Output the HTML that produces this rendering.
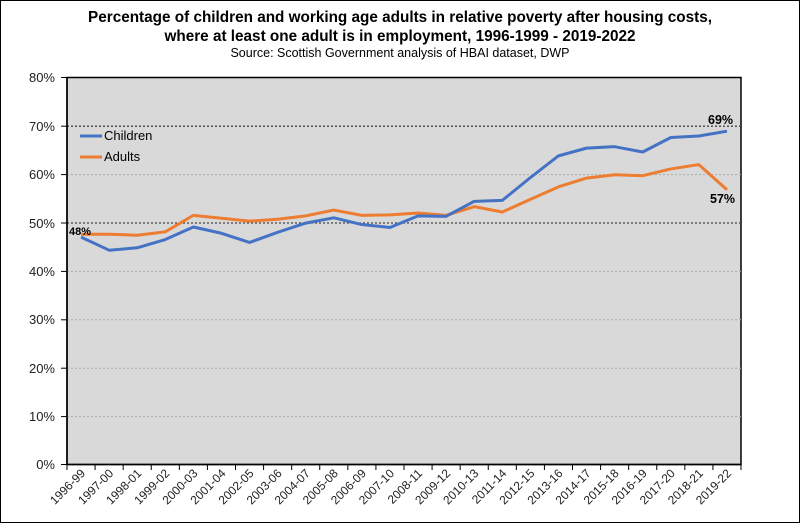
<!DOCTYPE html>
<html><head><meta charset="utf-8"><style>
body{margin:0;background:#fff}
svg{display:block;font-family:"Liberation Sans",Arial,sans-serif}
</style></head><body>
<svg width="800" height="523" viewBox="0 0 800 523" xmlns="http://www.w3.org/2000/svg">
<rect x="0.5" y="0.5" width="799" height="522" fill="#fff" stroke="#000" stroke-width="1"/>
<text x="400" y="22" text-anchor="middle" font-size="15.3" font-weight="bold">Percentage of children and working age adults in relative poverty after housing costs,</text>
<text x="400" y="41" text-anchor="middle" font-size="15.3" font-weight="bold">where at least one adult is in employment, 1996-1999 - 2019-2022</text>
<text x="400" y="57" text-anchor="middle" font-size="12.5">Source: Scottish Government analysis of HBAI dataset, DWP</text>
<rect x="67" y="77.5" width="674" height="387" fill="#d9d9d9" stroke="#000" stroke-width="1.5"/>
<g stroke="#777" stroke-width="1" stroke-dasharray="2,2">
<line x1="67" x2="741" y1="416.6" y2="416.6" stroke="#aaa"/>
<line x1="67" x2="741" y1="368.2" y2="368.2" stroke="#aaa"/>
<line x1="67" x2="741" y1="319.8" y2="319.8" stroke="#aaa"/>
<line x1="67" x2="741" y1="271.4" y2="271.4" stroke="#aaa"/>
<line x1="67" x2="741" y1="223" y2="223" stroke="#444" stroke-width="1.3"/>
<line x1="67" x2="741" y1="174.6" y2="174.6" stroke="#aaa"/>
<line x1="67" x2="741" y1="126.2" y2="126.2" stroke="#444" stroke-width="1.3"/>
</g>
<line x1="67" x2="741" y1="464.5" y2="464.5" stroke="#000" stroke-width="1.5"/>
<line x1="67" x2="67" y1="77.5" y2="464.5" stroke="#000" stroke-width="1.5"/>
<g font-size="13" text-anchor="end" fill="#222">
<text x="55" y="469">0%</text><text x="55" y="421">10%</text><text x="55" y="373">20%</text><text x="55" y="324">30%</text><text x="55" y="276">40%</text><text x="55" y="228">50%</text><text x="55" y="179">60%</text><text x="55" y="131">70%</text><text x="55" y="82">80%</text>
</g>
<g stroke="#000" stroke-width="1">
<line x1="61" x2="67" y1="464.5" y2="464.5"/><line x1="61" x2="67" y1="416.6" y2="416.6"/><line x1="61" x2="67" y1="368.2" y2="368.2"/><line x1="61" x2="67" y1="319.8" y2="319.8"/><line x1="61" x2="67" y1="271.4" y2="271.4"/><line x1="61" x2="67" y1="223" y2="223"/><line x1="61" x2="67" y1="174.6" y2="174.6"/><line x1="61" x2="67" y1="126.2" y2="126.2"/><line x1="61" x2="67" y1="77.5" y2="77.5"/>
</g>
<g id="ticks" stroke="#000" stroke-width="1"></g>
<g id="xl" font-size="12" fill="#222"></g>
<polyline id="ad" fill="none" stroke="#ed7d31" stroke-width="3" stroke-linejoin="round"/>
<polyline id="ch" fill="none" stroke="#4472c4" stroke-width="3" stroke-linejoin="round"/>
<line x1="80" x2="102" y1="136" y2="136" stroke="#4472c4" stroke-width="3"/>
<text x="104" y="140" font-size="13">Children</text>
<line x1="80" x2="102" y1="157" y2="157" stroke="#ed7d31" stroke-width="3"/>
<text x="104" y="161" font-size="13">Adults</text>
<text x="69" y="235" font-size="11" font-weight="bold">48%</text>
<text x="708" y="124" font-size="12.5" font-weight="bold">69%</text>
<text x="710" y="203" font-size="12.5" font-weight="bold">57%</text>
</svg>
<script>
var labels=["1996-99","1997-00","1998-01","1999-02","2000-03","2001-04","2002-05","2003-06","2004-07","2005-08","2006-09","2007-10","2008-11","2009-12","2010-13","2011-14","2012-15","2013-16","2014-17","2015-18","2016-19","2017-20","2018-21","2019-22"];
var ch=[47,44.3,44.8,46.5,49.1,47.8,45.9,48,49.9,51,49.6,49,51.4,51.3,54.4,54.6,59.3,63.8,65.4,65.7,64.6,67.6,67.9,68.9];
var ad=[47.6,47.6,47.4,48.1,51.5,50.9,50.3,50.7,51.4,52.6,51.5,51.6,52,51.5,53.3,52.2,54.8,57.4,59.2,59.9,59.7,61.1,62,56.8];
var w=674/24,ns="http://www.w3.org/2000/svg";
function X(i){return 67+w/2+w*i} function Y(v){return 464.5-v*4.8375}
document.getElementById('ch').setAttribute('points',ch.map((v,i)=>X(i)+','+Y(v)).join(' '));
document.getElementById('ad').setAttribute('points',ad.map((v,i)=>X(i)+','+Y(v)).join(' '));
var t=document.getElementById('ticks'),xl=document.getElementById('xl');
for(var i=0;i<=24;i++){var l=document.createElementNS(ns,'line');var x=67+w*i;l.setAttribute('x1',x);l.setAttribute('x2',x);l.setAttribute('y1',464.5);l.setAttribute('y2',470);t.appendChild(l);}
labels.forEach(function(s,i){var e=document.createElementNS(ns,'text');var x=X(i)+5,y=474;e.setAttribute('x',x);e.setAttribute('y',y);e.setAttribute('text-anchor','end');e.setAttribute('transform','rotate(-45 '+x+' '+y+')');e.textContent=s;xl.appendChild(e);});
</script>
</body></html>
